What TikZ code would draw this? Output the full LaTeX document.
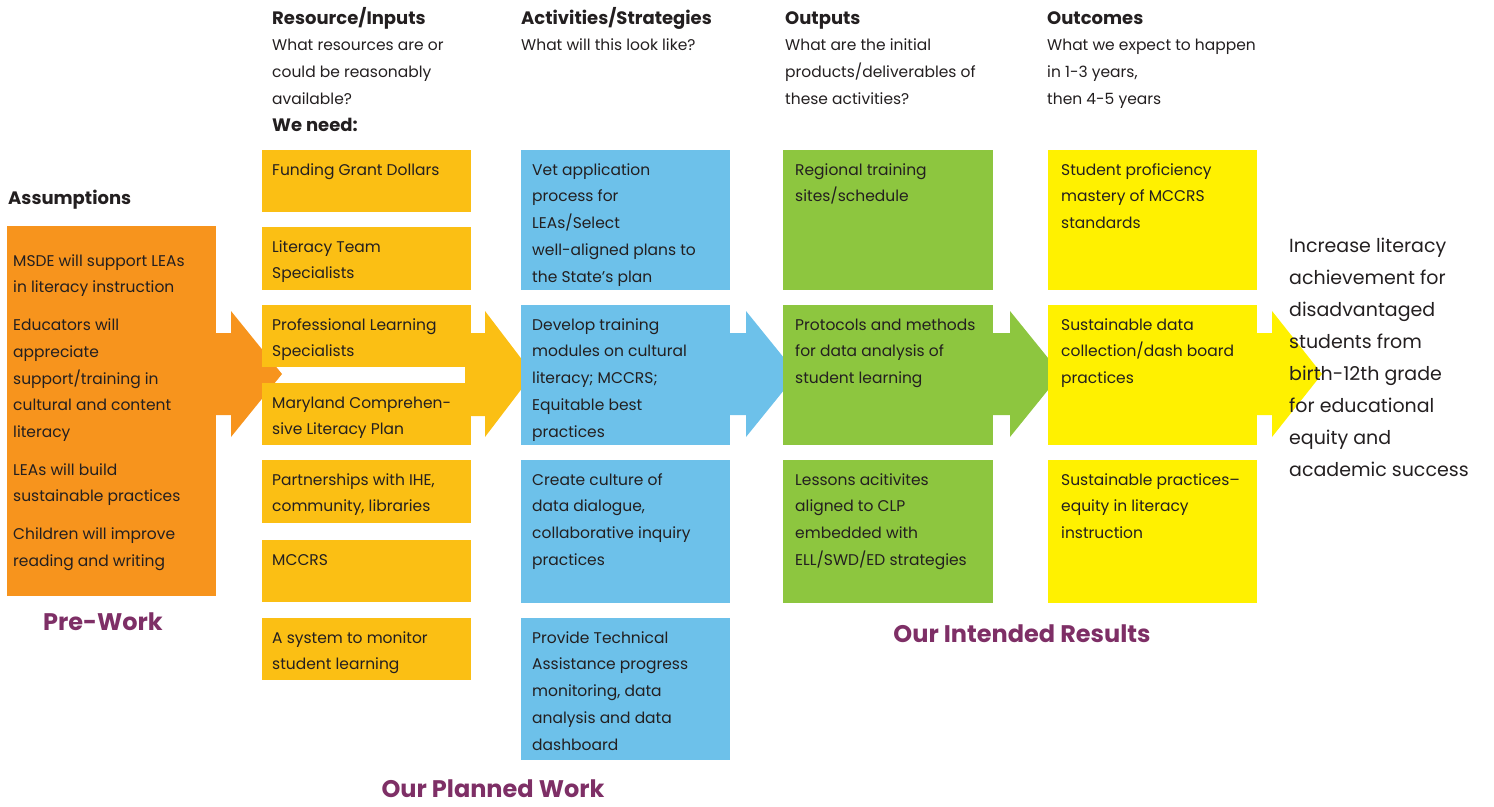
\documentclass[tikz,border=0pt]{standalone}
\usepackage{fontspec}
\setmainfont{Poppins}
\definecolor{cOrange}{HTML}{F7941D}
\definecolor{cRes}{HTML}{FBBF14}
\definecolor{cBlue}{HTML}{6DC1EA}
\definecolor{cGreen}{HTML}{8DC63F}
\definecolor{cYellow}{HTML}{FFF100}
\definecolor{cText}{HTML}{231F20}
\definecolor{cPurple}{HTML}{7E2F66}
\newcommand\fl{\rule{0pt}{18pt}}
\newcommand\hb[1]{{\bfseries\fontsize{18}{26.7}\selectfont #1}}
\newcommand\pbox[8]{%
  \node[boxshape, fill=#2, minimum width=#5pt, minimum height=#6pt] (#1) at (#3,#4) {};
  \node[boxtext] (#1t) at ([shift={(#7,7)}]#1.north west) {\fl #8};}
\begin{document}
\begin{tikzpicture}[x=1pt, y=-1pt,
  boxshape/.style={rectangle, draw=none, inner sep=0pt, outer sep=0pt, anchor=north west},
  boxtext/.style={inner sep=0pt, align=left, text=cText, anchor=north west, font=\fontsize{15.5}{26.7}\selectfont},
  hdr/.style={inner sep=0pt, align=left, text=cText, font=\fontsize{15.5}{26.7}\selectfont, anchor=north west},
  plabel/.style={inner sep=0pt, text=cPurple, font=\bfseries\fontsize{24}{28}\selectfont, anchor=base}
]
\useasboundingbox (0,0) rectangle (1494,806);
% block arrows (behind boxes)
\fill[cOrange] (210,333) -- (231,333) -- (231,311) -- (282,374) -- (231,437) -- (231,415) -- (210,415) -- cycle;
\fill[cRes] (465,333) -- (485,333) -- (485,311) -- (533,374) -- (485,437) -- (485,416) -- (465,416) -- cycle;
\fill[cBlue] (725,333) -- (746,333) -- (746,311) -- (797,374) -- (746,437) -- (746,415) -- (725,415) -- cycle;
\fill[cGreen] (988,333) -- (1010,333) -- (1010,311) -- (1061,374) -- (1010,437) -- (1010,415) -- (988,415) -- cycle;
\fill[cYellow] (1252,333) -- (1272,333) -- (1272,311) -- (1322,374) -- (1272,437) -- (1272,415) -- (1252,415) -- cycle;

% headers
\node[hdr] (hres) at (272,6) {\fl\hb{Resource/Inputs}\\What resources are or\\could be reasonably\\available?\\\hb{We need:}};
\node[hdr] (hact) at (521,6) {\fl\hb{Activities/Strategies}\\What will this look like?};
\node[hdr] (hout) at (785,6) {\fl\hb{Outputs}\\What are the initial\\products/deliverables of\\these activities?};
\node[hdr] (hoc) at (1047,6) {\fl\hb{Outcomes}\\What we expect to happen\\in 1-3 years,\\then 4-5 years};

% assumptions
\node[hdr] (hass) at (8,186) {\fl\hb{Assumptions}};
\node[boxshape, fill=cOrange, minimum width=209pt, minimum height=370pt] (ass) at (7,226) {};
\node[boxtext] (asst) at ([shift={(6,22)}]ass.north west) {\fl MSDE will support LEAs\\in literacy instruction\\[11pt]Educators will\\appreciate\\support/training in\\cultural and content\\literacy\\[11pt]LEAs will build\\sustainable practices\\[11pt]Children will improve\\reading and writing};

% resources
\pbox{r1}{cRes}{262}{150}{209}{62}{10}{Funding Grant Dollars}
\pbox{r2}{cRes}{262}{227}{209}{63}{10}{Literacy Team\\Specialists}
\pbox{r3}{cRes}{262}{305}{209}{62}{10}{Professional Learning\\Specialists}
\pbox{r4}{cRes}{262}{383}{209}{62}{10}{Maryland Comprehen-\\sive Literacy Plan}
\pbox{r5}{cRes}{262}{460}{209}{63}{10}{Partnerships with IHE,\\community, libraries}
\pbox{r6}{cRes}{262}{540}{209}{62}{10}{MCCRS}
\pbox{r7}{cRes}{262}{618}{209}{62}{10}{A system to monitor\\student learning}

% activities
\pbox{a1}{cBlue}{521}{150}{209}{140}{11}{Vet application\\process for\\LEAs/Select\\well-aligned plans to\\the State’s plan}
\pbox{a2}{cBlue}{521}{305}{209}{140}{11}{Develop training\\modules on cultural\\literacy; MCCRS;\\Equitable best\\practices}
\pbox{a3}{cBlue}{521}{460}{209}{143}{11}{Create culture of\\data dialogue,\\collaborative inquiry\\practices}
\pbox{a4}{cBlue}{521}{618}{209}{142}{11}{Provide Technical\\Assistance progress\\monitoring, data\\analysis and data\\dashboard}

% outputs
\pbox{o1}{cGreen}{783}{150}{210}{140}{12}{Regional training\\sites/schedule}
\pbox{o2}{cGreen}{783}{305}{210}{140}{12}{Protocols and methods\\for data analysis of\\student learning}
\pbox{o3}{cGreen}{783}{460}{210}{143}{12}{Lessons acitivites\\aligned to CLP\\embedded with\\ELL/SWD/ED strategies}

% outcomes
\pbox{c1}{cYellow}{1048}{150}{209}{140}{13}{Student proficiency\\mastery of MCCRS\\standards}
\pbox{c2}{cYellow}{1048}{305}{209}{140}{13}{Sustainable data\\collection/dash board\\practices}
\pbox{c3}{cYellow}{1048}{460}{209}{143}{13}{Sustainable practices–\\equity in literacy\\instruction}

% goal
\node[inner sep=0pt, align=left, text=cText, font=\fontsize{19}{32}\selectfont, anchor=north west] (goal) at (1289,230) {\rule{0pt}{22pt}Increase literacy\\achievement for\\disadvantaged\\students from\\birth-12th grade\\for educational\\equity and\\academic success};

% purple labels
\node[plabel] (lpre) at (103,630) {Pre-Work};
\node[plabel] (lplan) at (493,797) {Our Planned Work};
\node[plabel] (lres) at (1022,642) {Our Intended Results};
\end{tikzpicture}
\end{document}
